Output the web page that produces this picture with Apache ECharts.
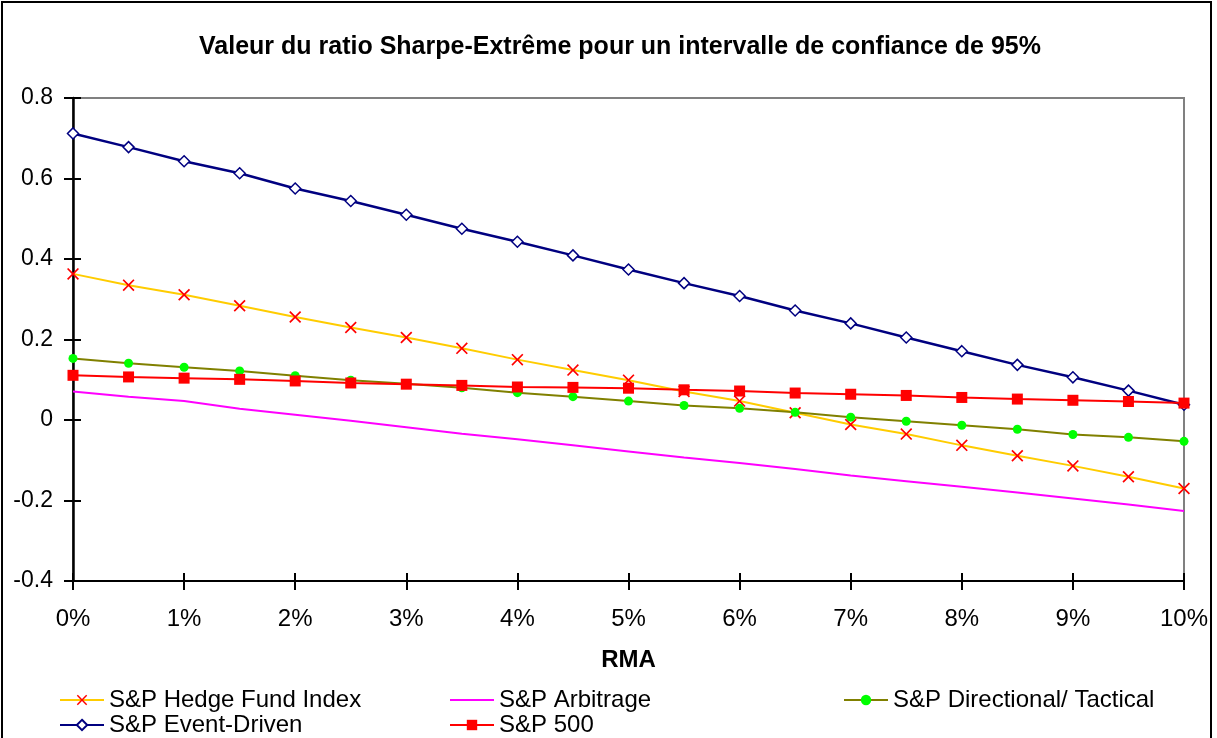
<html lang="fr">

<head>
  <meta charset="utf-8">
  <title>Sharpe-Extreme</title>
  <style>
    html, body { margin: 0; padding: 0; background: #fff; }
    #chart { width: 1217px; height: 738px; }
  </style>
</head>

<body>
  <div id="chart"></div>
</body>

<script src="https://cdn.jsdelivr.net/npm/echarts@6/dist/echarts.min.js"></script>

<script>

  // RMA from 0% to 10% by 0.5%
  var rma = ['0%', '0.5%', '1%', '1.5%', '2%', '2.5%', '3%', '3.5%', '4%', '4.5%', '5%',
    '5.5%', '6%', '6.5%', '7%', '7.5%', '8%', '8.5%', '9%', '9.5%', '10%'];

  var hedgeFund = [0.363, 0.335, 0.311, 0.284, 0.256, 0.230, 0.205, 0.178, 0.150, 0.124, 0.099,
    0.071, 0.047, 0.018, -0.011, -0.035, -0.063, -0.089, -0.114, -0.141, -0.170];
  var arbitrage = [0.071, 0.058, 0.047, 0.028, 0.013, -0.002, -0.018, -0.034, -0.048, -0.063, -0.078,
    -0.093, -0.107, -0.122, -0.138, -0.152, -0.166, -0.180, -0.195, -0.210, -0.226];
  var directional = [0.153, 0.141, 0.131, 0.122, 0.110, 0.099, 0.090, 0.080, 0.068, 0.058, 0.047,
    0.036, 0.029, 0.019, 0.007, -0.003, -0.013, -0.023, -0.036, -0.043, -0.053];
  var eventDriven = [0.712, 0.678, 0.643, 0.613, 0.575, 0.544, 0.510, 0.475, 0.443, 0.409, 0.374,
    0.340, 0.308, 0.272, 0.240, 0.205, 0.171, 0.137, 0.106, 0.073, 0.038];
  var sp500 = [0.111, 0.107, 0.104, 0.101, 0.097, 0.092, 0.089, 0.086, 0.082, 0.081, 0.079,
    0.075, 0.072, 0.067, 0.064, 0.061, 0.056, 0.052, 0.049, 0.046, 0.042];

  var font = 'Arial, "Liberation Sans", sans-serif';
  var crossSymbol = 'path://M0,1L1,0L5,4L9,0L10,1L6,5L10,9L9,10L5,6L1,10L0,9L4,5Z';

  function legendAt(item, left, top) {
    return {
      data: [item],
      left: left,
      top: top,
      padding: 0,
      itemWidth: 44,
      itemHeight: 13,
      itemGap: 0,
      textStyle: { fontFamily: font, fontSize: 24, color: '#000' }
    };
  }

  var plot = echarts.init(document.getElementById('chart'));

  option = {
    animation: false,
    backgroundColor: '#fff',
    graphic: [{
      type: 'rect',
      shape: { x: 2, y: 2, width: 1209, height: 745 },
      style: { fill: 'none', stroke: '#000', lineWidth: 2 }
    }],
    title: {
      text: 'Valeur du ratio Sharpe-Extrême pour un intervalle de confiance de 95%',
      left: 620,
      textAlign: 'center',
      top: 35,
      padding: 0,
      textStyle: { fontFamily: font, fontSize: 25, fontWeight: 'bold', color: '#000' }
    },
    legend: [
      legendAt('S&P Hedge Fund Index', 59, 688),
      legendAt({ name: 'S&P Arbitrage', itemStyle: { opacity: 0 } }, 449, 688),
      legendAt('S&P Directional/ Tactical', 843, 688),
      legendAt('S&P Event-Driven', 59, 713),
      legendAt('S&P 500', 449, 713)
    ],
    grid: {
      left: 73,
      right: 33,
      top: 98,
      bottom: 157,
      show: true,
      borderColor: '#808080',
      borderWidth: 2,
      backgroundColor: '#fff'
    },
    xAxis: [{
      type: 'category',
      data: rma,
      boundaryGap: false,
      name: 'RMA',
      nameLocation: 'middle',
      nameGap: 67,
      nameTextStyle: { fontFamily: font, fontSize: 24, fontWeight: 'bold', color: '#000' },
      axisLine: { onZero: false, lineStyle: { color: '#000', width: 2 } },
      axisTick: { interval: 1, length: 9, lineStyle: { color: '#000', width: 2 } },
      axisLabel: { interval: 1, margin: 26, fontFamily: font, fontSize: 24, color: '#000' },
      splitLine: { show: false }
    }, {
      type: 'category',
      data: rma,
      boundaryGap: false,
      position: 'bottom',
      axisLine: { show: false, onZero: false },
      axisTick: { inside: true, interval: 1, length: 8, lineStyle: { color: '#000', width: 2 } },
      axisLabel: { show: false },
      splitLine: { show: false }
    }],
    yAxis: [{
      type: 'value',
      min: -0.4,
      max: 0.8,
      interval: 0.2,
      axisLine: { show: true, lineStyle: { color: '#000', width: 2.5 } },
      axisTick: { show: true, length: 9, lineStyle: { color: '#000', width: 2 } },
      axisLabel: { margin: 20, fontFamily: font, fontSize: 23, color: '#000' },
      splitLine: { show: false }
    }, {
      type: 'value',
      min: -0.4,
      max: 0.8,
      interval: 0.2,
      position: 'left',
      axisLine: { show: false },
      axisTick: { show: true, inside: true, length: 8, lineStyle: { color: '#000', width: 2 } },
      axisLabel: { show: false },
      splitLine: { show: false }
    }],
    series: [{
      name: 'S&P Hedge Fund Index',
      type: 'line',
      data: hedgeFund,
      clip: false,
      symbol: crossSymbol,
      symbolSize: 12,
      lineStyle: { color: '#FFCC00', width: 2 },
      itemStyle: { color: '#FF0000' }
    }, {
      name: 'S&P Arbitrage',
      type: 'line',
      data: arbitrage,
      showSymbol: false,
      symbol: 'none',
      lineStyle: { color: '#FF00FF', width: 2 },
      itemStyle: { color: '#FF00FF' }
    }, {
      name: 'S&P Directional/ Tactical',
      type: 'line',
      data: directional,
      clip: false,
      symbol: 'circle',
      symbolSize: 9,
      lineStyle: { color: '#808000', width: 2 },
      itemStyle: { color: '#00FF00' }
    }, {
      name: 'S&P Event-Driven',
      type: 'line',
      data: eventDriven,
      clip: false,
      symbol: 'diamond',
      symbolSize: 11,
      lineStyle: { color: '#000080', width: 2.5 },
      itemStyle: { color: '#fff', borderColor: '#000080', borderWidth: 1.5 }
    }, {
      name: 'S&P 500',
      type: 'line',
      data: sp500,
      clip: false,
      symbol: 'rect',
      symbolSize: 11,
      lineStyle: { color: '#FF0000', width: 2 },
      itemStyle: { color: '#FF0000' }
    }]
  };
  plot.setOption(option = option)

</script>

</html>
